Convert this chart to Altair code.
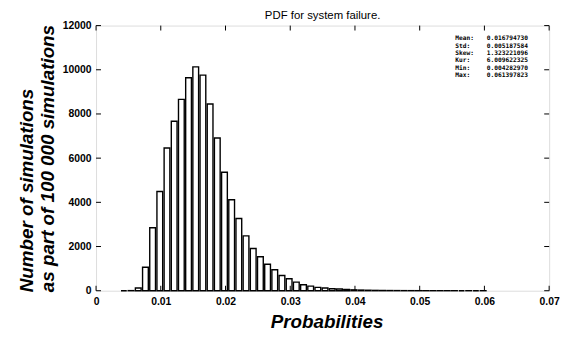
import altair as alt
import pandas as pd

# ---- data ----
bin_start = 0.0043      # centre of first histogram bin
bin_step = 0.00111      # histogram bin spacing
counts = [0, 5, 120, 1060, 2850, 4490, 6460, 7670, 8660, 9640, 10130, 9760,
          8450, 6910, 5360, 4120, 3270, 2480, 1910, 1540, 1200, 950, 690, 540,
          390, 270, 210, 150, 120, 90, 75, 55, 40, 30, 22, 16, 12, 9, 7, 5,
          4, 3, 2, 2, 1, 1, 1, 0, 1, 0, 1]

x_ticks = [0, 0.01, 0.02, 0.03, 0.04, 0.05, 0.06, 0.07]
y_ticks = [0, 2000, 4000, 6000, 8000, 10000, 12000]

stat_names = ["Mean:", "Std:", "Skew:", "Kur:", "Min:", "Max:"]
stat_values = ["0.016794730", "0.005187584", "1.323221096",
               "6.009622325", "0.004282970", "0.061397823"]

title_text = "PDF for system failure."
x_title = "Probabilities"
y_title = ["Number of simulations", "as part of  100 000 simulations"]

# ---- tables ----
centers = [bin_start + i * bin_step for i in range(len(counts))]
bars_df = pd.DataFrame({
    "lo": [c - 0.4 * bin_step for c in centers],
    "hi": [c + 0.4 * bin_step for c in centers],
    "count": counts,
    "base": [0] * len(counts),
})
xt_df = pd.DataFrame({"lo": x_ticks})
yt_df = pd.DataFrame({"count": y_ticks})
stats_df = pd.DataFrame({"name": stat_names, "val": stat_values,
                         "row": list(range(len(stat_names)))})

W, H = 458, 268
FONT = "Liberation Sans"

xscale = alt.Scale(domain=[0, 0.07], nice=False, zero=False)
yscale = alt.Scale(domain=[0, 12000], nice=False)

xaxis = alt.Axis(values=x_ticks, ticks=False, domain=False, grid=False,
                 labelExpr="datum.value == 0 ? '0' : format(datum.value, '.2f')",
                 labelFont=FONT, labelFontSize=10.5, labelFontWeight="bold",
                 labelColor="black", labelPadding=6, labelFlush=False,
                 title=x_title, titleFont=FONT, titleFontSize=19,
                 titleFontStyle="italic", titleFontWeight="bold",
                 titleColor="black", titleBaseline="alphabetic",
                 titleY=37, titleX=233)
yaxis = alt.Axis(values=y_ticks, ticks=False, domain=False, grid=False,
                 format="d", labelFont=FONT, labelFontSize=10.5,
                 labelFontWeight="bold", labelColor="black",
                 labelPadding=5, labelFlush=False,
                 title=y_title, titleFont=FONT, titleFontSize=19,
                 titleFontStyle="italic", titleFontWeight="bold",
                 titleColor="black", titleAngle=270, titleAlign="left",
                 titleBaseline="top", titleX=-79, titleY=269,
                 titleLineHeight=21)

X = alt.X("lo:Q", scale=xscale, axis=xaxis)
Y = alt.Y("count:Q", scale=yscale, axis=yaxis)

bars = alt.Chart(bars_df).mark_bar(
    fill="white", stroke="black", strokeWidth=1.4
).encode(x=X, x2="hi:Q", y=Y, y2="base:Q")

tick_len = 5
xb = alt.Chart(xt_df).mark_rule(color="black", strokeWidth=1).encode(
    x=X, y=alt.value(H), y2=alt.value(H - tick_len))
xtop = alt.Chart(xt_df).mark_rule(color="black", strokeWidth=1).encode(
    x=X, y=alt.value(0), y2=alt.value(tick_len))
yl = alt.Chart(yt_df).mark_rule(color="black", strokeWidth=1).encode(
    y=Y, x=alt.value(0), x2=alt.value(tick_len))
yr = alt.Chart(yt_df).mark_rule(color="black", strokeWidth=1).encode(
    y=Y, x=alt.value(W), x2=alt.value(W - tick_len))

stat_style = dict(align="left", baseline="middle", font="DejaVu Sans Mono",
                  fontSize=6.3, fontWeight="bold", lineHeight=7.4,
                  lineBreak="\n", color="black")
names = alt.Chart(pd.DataFrame({"t": ["\n".join(stat_names)]})).mark_text(
    **stat_style).encode(x=alt.value(363), y=alt.value(13), text="t:N")
vals = alt.Chart(pd.DataFrame({"t": ["\n".join(stat_values)]})).mark_text(
    **stat_style).encode(x=alt.value(395), y=alt.value(13), text="t:N")

title = alt.Chart(pd.DataFrame({"t": [title_text]})).mark_text(
    align="center", baseline="alphabetic", font=FONT, fontSize=11.5,
    color="black").encode(x=alt.value(W / 2), y=alt.value(-7), text="t:N")

chart = alt.layer(bars, xb, xtop, yl, yr, names, vals, title).properties(
    width=W, height=H,
    autosize=alt.AutoSizeParams(type="none"),
    padding={"left": 89, "top": 16, "right": 14, "bottom": 44},
).configure_view(stroke="black", strokeWidth=1.3).configure(background="white")

chart.save("out.html", embed_options={"renderer": "svg", "actions": False})
